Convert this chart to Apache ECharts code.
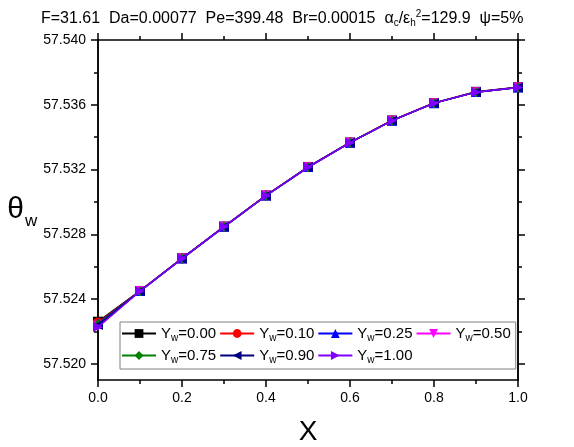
<!DOCTYPE html>
<html lang="en">
<head>
    <meta charset="UTF-8">
    <title>theta_w vs X</title>
    <script src="https://cdn.jsdelivr.net/npm/echarts@6/dist/echarts.min.js"></script>
    <style>
        html, body { margin: 0; padding: 0; background: #fff; }
        #ChartId { width: 574px; height: 447px; }
    </style>
</head>
<body>
<div id="ChartId"></div>
<script>
    // data
    var xValues = [0, 0.1, 0.2, 0.3, 0.4, 0.5, 0.6, 0.7, 0.8, 0.9, 1.0];
    var seriesNames = ['0.00', '0.10', '0.25', '0.50', '0.75', '0.90', '1.00'];
    var yw000 = [57.52260, 57.52450, 57.52652, 57.52848, 57.53040, 57.53216, 57.53367, 57.53503, 57.53611, 57.53680, 57.53708];
    var yw010 = [57.52255, 57.52450, 57.52651, 57.52847, 57.53040, 57.53215, 57.53367, 57.53503, 57.53611, 57.53679, 57.53708];
    var yw025 = [57.52250, 57.52449, 57.52651, 57.52847, 57.53039, 57.53215, 57.53366, 57.53502, 57.53610, 57.53679, 57.53707];
    var yw050 = [57.52235, 57.52449, 57.52650, 57.52846, 57.53039, 57.53214, 57.53366, 57.53502, 57.53610, 57.53678, 57.53707];
    var yw075 = [57.52245, 57.52448, 57.52650, 57.52846, 57.53038, 57.53214, 57.53366, 57.53502, 57.53610, 57.53678, 57.53707];
    var yw090 = [57.52240, 57.52448, 57.52650, 57.52846, 57.53038, 57.53214, 57.53366, 57.53502, 57.53610, 57.53678, 57.53707];
    var yw100 = [57.52227, 57.52448, 57.52650, 57.52846, 57.53038, 57.53214, 57.53366, 57.53502, 57.53610, 57.53678, 57.53707];
    var yMajorTicks = [57.520, 57.524, 57.528, 57.532, 57.536, 57.540];
    var yMinorTicks = [57.522, 57.526, 57.530, 57.534, 57.538];

    var allY = [yw000, yw010, yw025, yw050, yw075, yw090, yw100];
    var colors = ['#000000', '#ff0000', '#0000ff', '#ff00ff', '#008000', '#000080', '#8000ff'];
    var symbols = ['rect', 'circle', 'triangle',
        'path://M0,0 L10,0 L5,10 Z',
        'diamond',
        'path://M10,0 L10,10 L0,5 Z',
        'path://M0,0 L10,5 L0,10 Z'];

    var FONT = 'Liberation Sans, Arial, sans-serif';

    function pairs(ys) {
        var out = [];
        for (var i = 0; i < xValues.length; i++) {
            out.push([xValues[i], ys[i]]);
        }
        return out;
    }

    var series = [];
    for (var k = 0; k < seriesNames.length; k++) {
        series.push({
            name: 'Yw=' + seriesNames[k],
            type: 'line',
            data: pairs(allY[k]),
            symbol: symbols[k],
            symbolSize: 10,
            color: colors[k],
            lineStyle: { width: 1.5, color: colors[k] },
            itemStyle: { color: colors[k] },
            z: 2 + k
        });
    }

    // y axis: left and right copies, major + minor ticks
    function yAxisDef(pos, ticks, len, labels) {
        return {
            type: 'value',
            position: pos,
            offset: 0,
            min: 57.519,
            max: 57.540,
            splitLine: { show: false },
            axisLine: { show: true, lineStyle: { color: '#000', width: 1.5 } },
            axisTick: { show: true, inside: false, length: len, customValues: ticks, lineStyle: { color: '#000', width: 1.5 } },
            axisLabel: labels ? {
                show: true, customValues: yMajorTicks, margin: 12,
                fontSize: 14, color: '#000', fontFamily: FONT,
                formatter: function (v) { return v.toFixed(3); }
            } : { show: false }
        };
    }

    var yAxes = [yAxisDef('left', yMajorTicks, 7, true), yAxisDef('left', yMinorTicks, 4, false),
        yAxisDef('right', yMajorTicks, 7, false), yAxisDef('right', yMinorTicks, 4, false)];
    yAxes[0].name = '{t|θ}{s|w}';
    yAxes[0].nameLocation = 'middle';
    yAxes[0].nameRotate = 0;
    yAxes[0].nameGap = 53;
    yAxes[0].nameTextStyle = {
        rich: {
            t: { fontSize: 30, fontFamily: FONT, color: '#000' },
            s: { fontSize: 17, fontFamily: FONT, color: '#000', padding: [22, 0, 0, 1] }
        }
    };

    function xAxisDef(pos, labels) {
        return {
            type: 'value',
            position: pos,
            min: 0,
            max: 1,
            interval: 0.2,
            splitLine: { show: false },
            axisLine: { show: true, onZero: false, lineStyle: { color: '#000', width: 1.5 } },
            axisTick: { show: true, inside: false, length: 7, lineStyle: { color: '#000', width: 1.5 } },
            minorTick: { show: true, splitNumber: 2, length: 4, lineStyle: { color: '#000', width: 1.5 } },
            axisLabel: labels ? {
                show: true, margin: 11, fontSize: 14, color: '#000', fontFamily: FONT,
                formatter: function (v) { return v.toFixed(1); }
            } : { show: false }
        };
    }
    var xAxes = [xAxisDef('bottom', true), xAxisDef('top', false)];
    xAxes[0].name = 'X';
    xAxes[0].nameLocation = 'middle';
    xAxes[0].nameGap = 38;
    xAxes[0].nameTextStyle = { fontSize: 28, fontFamily: FONT, color: '#000' };

    var myChart = echarts.init(document.getElementById('ChartId'), null, { renderer: 'canvas' });
    var option = {
        backgroundColor: '#fff',
        animation: false,
        title: {
            left: 36,
            top: 4,
            text: 'F=31.61  Da=0.00077  Pe=399.48  Br=0.00015  {n|α}{s|c}{n|/ε}{s|h}{p|2}{n|=129.9  ψ=5%}',
            textStyle: {
                fontSize: 16, fontWeight: 'normal', color: '#000', fontFamily: FONT,
                rich: {
                    n: { fontSize: 16, fontFamily: FONT, color: '#000' },
                    s: { fontSize: 10, fontFamily: FONT, color: '#000', padding: [9, 0, 0, 0] },
                    p: { fontSize: 10, fontFamily: FONT, color: '#000', padding: [0, 0, 9, 0] }
                }
            }
        },
        grid: { left: 98, right: 56, top: 40, bottom: 67, outerBoundsMode: 'none', containLabel: false },
        legend: {
            left: 120,
            top: 322,
            width: 400,
            padding: [2, 5, 4, 1],
            itemGap: 3,
            itemWidth: 34,
            itemHeight: 11,
            borderColor: '#808080',
            borderWidth: 1,
            data: series.map(function (s) { return s.name; }),
            formatter: function (name) {
                return '{a|Y}{s|w}{a|' + name.substring(2) + '}';
            },
            textStyle: {
                rich: {
                    a: { fontSize: 15, lineHeight: 19, fontFamily: FONT, color: '#000' },
                    s: { fontSize: 10, lineHeight: 19, fontFamily: FONT, color: '#000', padding: [9, 0, 0, 0] }
                }
            }
        },
        xAxis: xAxes,
        yAxis: yAxes,
        series: series
    };
    myChart.setOption(option, true);
</script>
</body>
</html>
